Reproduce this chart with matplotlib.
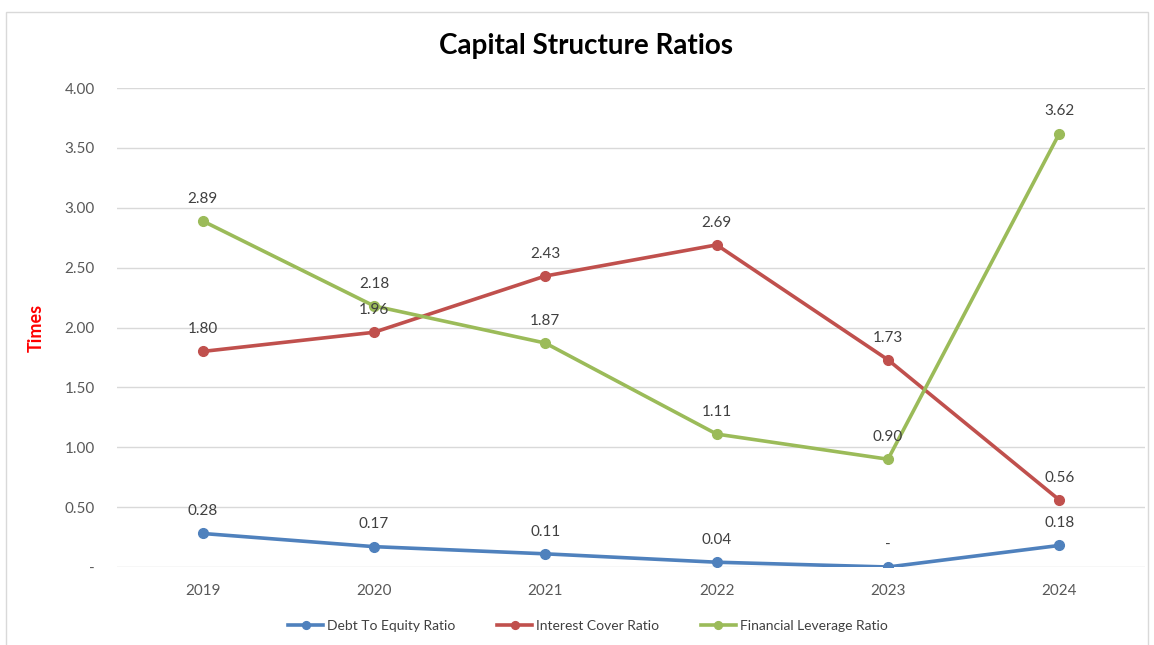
import matplotlib.pyplot as plt
from matplotlib.patches import Rectangle

# data
years = ['2019', '2020', '2021', '2022', '2023', '2024']
debt_equity = [0.28, 0.17, 0.11, 0.04, 0.00, 0.18]
interest_cover = [1.80, 1.96, 2.43, 2.69, 1.73, 0.56]
fin_leverage = [2.89, 2.18, 1.87, 1.11, 0.90, 3.62]
y_ticks = [0, 0.5, 1.0, 1.5, 2.0, 2.5, 3.0, 3.5, 4.0]

plt.rcParams['font.family'] = ['Lato', 'DejaVu Sans']

def fmt(v):
    return '-' if v == 0 else f'{v:.2f}'

fig = plt.figure(figsize=(11.54, 6.45), dpi=100)
fig.patches.append(Rectangle((6 / 1154, -0.01), 1142 / 1154, 1 - 12 / 645 + 0.01,
                             transform=fig.transFigure, fill=False,
                             edgecolor='#d9d9d9', linewidth=1))
ax = fig.add_axes([117 / 1154, 1 - 567 / 645, 1028 / 1154, (567 - 88) / 645])

series = [
    (debt_equity, '#4f81bd', 'Debt To Equity Ratio'),
    (interest_cover, '#c0504d', 'Interest Cover Ratio'),
    (fin_leverage, '#9bbb59', 'Financial Leverage Ratio'),
]
x = list(range(len(years)))
for vals, col, name in series:
    ax.plot(x, vals, color=col, lw=2.6, marker='o', ms=7, label=name)
    for xi, v in zip(x, vals):
        ax.annotate(fmt(v), (xi, v), xytext=(0, 11), textcoords='offset points',
                    ha='center', va='bottom', fontsize=11, color='#404040')

ax.set_xlim(-0.5, len(years) - 0.5)
ax.set_ylim(0, 4.0)
ax.set_xticks(x)
ax.set_xticklabels(years)
ax.set_yticks(y_ticks)
ax.set_yticklabels([fmt(t) for t in y_ticks])
ax.tick_params(length=0, labelsize=11, colors='#595959', pad=12)
ax.tick_params(axis='y', pad=16)
ax.grid(axis='y', color='#d9d9d9', lw=1)
ax.set_axisbelow(True)
for s in ax.spines.values():
    s.set_visible(False)

ax.set_ylabel('Times', color='red', fontweight='bold', fontsize=13)
ax.yaxis.set_label_coords((45 - 117) / 1028, 0.5)
fig.text(586 / 1154, 1 - 46 / 645, 'Capital Structure Ratios', ha='center', va='center',
         fontsize=20, fontweight='bold', color='black')

fig.legend(loc='center', bbox_to_anchor=(588 / 1154, 1 - 626 / 645), ncol=3,
           frameon=False, fontsize=10, labelcolor='#404040', handlelength=2.5,
           handletextpad=0.3, columnspacing=3.0, markerscale=0.8)

fig.savefig('out.png', dpi=100)
